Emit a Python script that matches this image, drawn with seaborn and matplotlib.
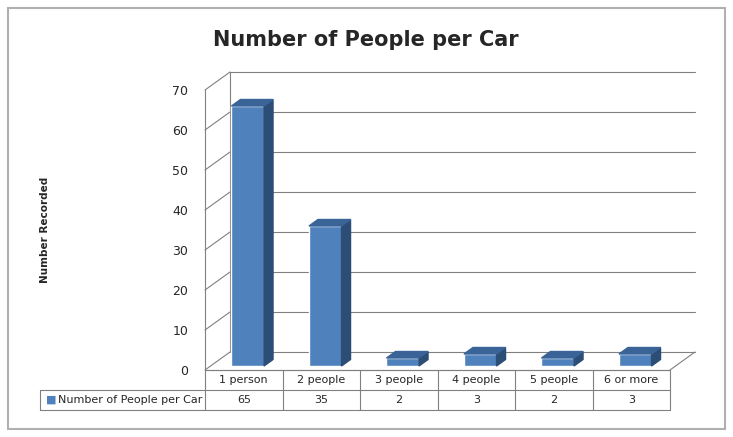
import matplotlib
matplotlib.use("Agg")
import matplotlib.pyplot as plt
import matplotlib.transforms as mtransforms
from matplotlib.patches import Polygon
import seaborn as sns
import pandas as pd

categories = ["1 person", "2 people", "3 people", "4 people", "5 people", "6 or more"]
values = [65, 35, 2, 3, 2, 3]
series_name = "Number of People per Car"
yticks = [0, 10, 20, 30, 40, 50, 60, 70]

sns.set_style("white")
plt.rcParams['font.family'] = ['DejaVu Sans']

W, H = 733, 437
fig = plt.figure(figsize=(W/100, H/100), dpi=100)
ax = fig.add_axes([205/W, (H-370)/H, 465/W, 280/H])
df = pd.DataFrame({"cat": categories, "val": values})
sns.barplot(data=df, x="cat", y="val", color="#4F81BD", width=0.42, ax=ax, saturation=1, zorder=3)
ax.set_ylim(0, 70)
ax.set_xlim(-0.5, 5.5)
for s in ax.spines.values():
    s.set_visible(False)
ax.set_xticks([])
ax.set_xlabel("")
ax.set_ylabel("")
ax.set_yticks(yticks)
ax.tick_params(axis='y', labelsize=9, length=0, pad=12)

dx, dy = 25, 18
back = mtransforms.offset_copy(ax.transData, fig=fig, x=dx, y=dy, units='dots')
gc = "#808080"
for t in yticks:
    ax.plot([-0.5, 5.5], [t, t], color=gc, lw=0.8, transform=back, clip_on=False, zorder=1)
    ax.annotate("", xy=(-0.5, t), xycoords=back, xytext=(-0.5, t), textcoords=ax.transData,
                arrowprops=dict(arrowstyle='-', color=gc, lw=0.8, shrinkA=0, shrinkB=0), zorder=1)
ax.plot([-0.5, -0.5], [0, 70], color=gc, lw=0.8, transform=back, clip_on=False, zorder=1)
ax.plot([-0.5, -0.5], [0, 70], color=gc, lw=0.8, clip_on=False, zorder=1)
ax.annotate("", xy=(5.5, 0), xycoords=back, xytext=(5.5, 0), textcoords=ax.transData,
            arrowprops=dict(arrowstyle='-', color=gc, lw=0.8, shrinkA=0, shrinkB=0), zorder=1)
ax.plot([-0.5, 5.5], [0, 0], color=gc, lw=0.8, clip_on=False, zorder=2)

# bar depth faces (bars sit slightly back on the floor)
bd, bdy = 9, 6.5
shift_x, shift_y = 4, 4
inv = ax.transData.inverted()
for p in ax.patches:
    x0, w, h = p.get_x(), p.get_width(), p.get_height()
    (X0, Y0), (X1, Y1) = ax.transData.transform([(x0, 0), (x0 + w, h)])
    X0 += shift_x; X1 += shift_x; Y0 += shift_y; Y1 += shift_y
    d = lambda px, py: inv.transform((px, py))
    p.set_xy(d(X0, Y0)); 
    side = [d(X1, Y0), d(X1 + bd, Y0 + bdy), d(X1 + bd, Y1 + bdy), d(X1, Y1)]
    top = [d(X0, Y1), d(X1, Y1), d(X1 + bd, Y1 + bdy), d(X0 + bd, Y1 + bdy)]
    ax.add_patch(Polygon(side, closed=True, color="#2C4D75", zorder=4, clip_on=False))
    ax.add_patch(Polygon(top, closed=True, color="#3A6398", zorder=4, clip_on=False))

# data table drawn manually in axes coordinates
ta = ax.transAxes
r0, r1, r2 = 0, -20/280, -40/280
xl = -165/465
kw = dict(color=gc, lw=0.8, transform=ta, clip_on=False)
ax.plot([0, 1], [r0, r0], **kw)
ax.plot([xl, 1], [r1, r1], **kw)
ax.plot([xl, 1], [r2, r2], **kw)
ax.plot([xl, xl], [r1, r2], **kw)
n = len(categories)
for i in range(n + 1):
    ax.plot([i/n, i/n], [r0, r2], **kw)
for i, (c, v) in enumerate(zip(categories, values)):
    ax.text((i + 0.5)/n, (r0 + r1)/2, c, transform=ta, ha='center', va='center', fontsize=8)
    ax.text((i + 0.5)/n, (r1 + r2)/2, str(v), transform=ta, ha='center', va='center', fontsize=8)
ax.text(xl + 6/465, (r1 + r2)/2, "■", color="#4F81BD", transform=ta, ha='left', va='center', fontsize=8)
ax.text(xl + 18/465, (r1 + r2)/2, series_name, transform=ta, ha='left', va='center', fontsize=8)

fig.text(366/W, (H-40)/H, "Number of People per Car", ha='center', va='center',
         fontsize=15, fontweight='bold')
fig.text(45/W, (H-230)/H, "Number Recorded", rotation=90, ha='center', va='center',
         fontsize=7.5, fontweight='bold')

frame = plt.Rectangle((8/W, 8/H), 717/W, 421/H, transform=fig.transFigure, fill=False,
                      edgecolor="#B0B0B0", lw=1.5)
fig.patches.append(frame)

fig.savefig("out.png", dpi=100)
